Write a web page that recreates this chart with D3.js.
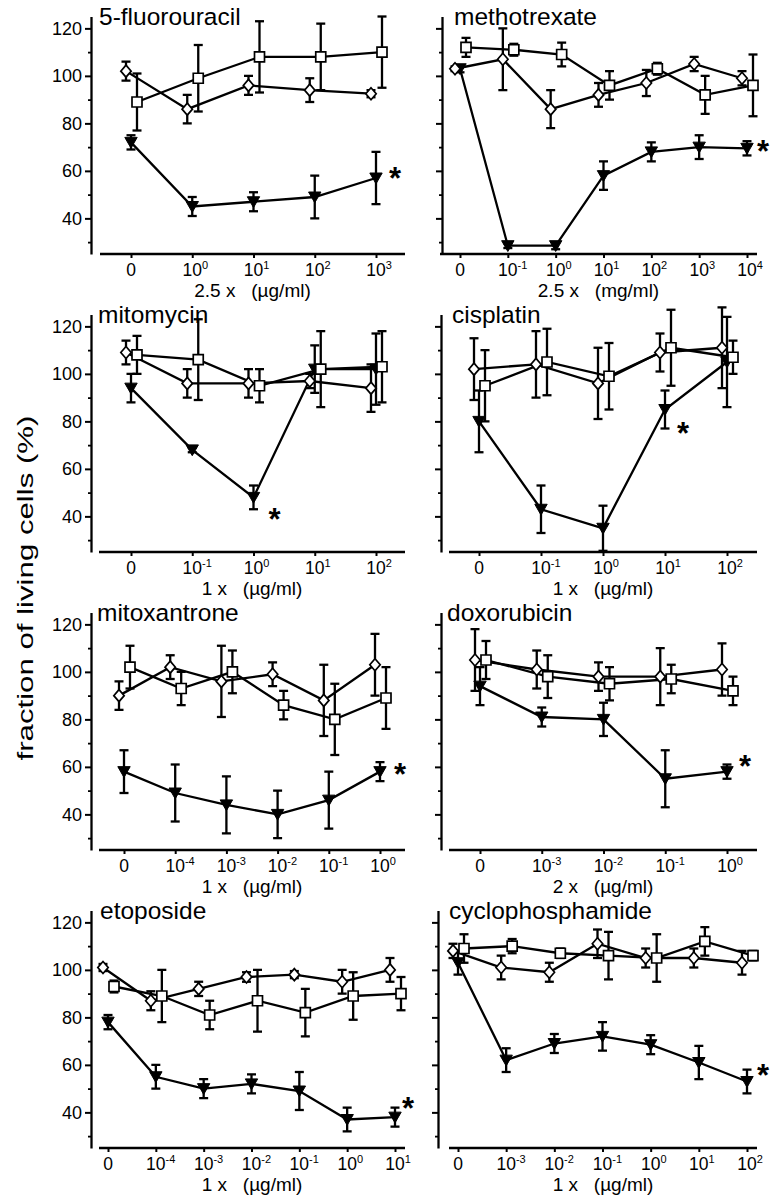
<!DOCTYPE html>
<html><head><meta charset="utf-8">
<script src="https://cdn.jsdelivr.net/npm/d3@7"></script>
<style>
body{margin:0;background:#fff}
svg{display:block}
text{font-family:"Liberation Sans",Arial,Helvetica,sans-serif;fill:#000}
</style>
</head><body>
<svg id="c" width="776" height="1200"></svg>
<script>
// ---------------- DATA ----------------
const yMajorTicks = [40, 60, 80, 100, 120];
const yMinorTicks = [30, 50, 70, 90, 110];
const yLabel = "fraction of living cells (%)";

// 5-fluorouracil
const fuCats = ["0","10^0","10^1","10^2","10^3"];
const fuDiamond = [102, 86, 96, 94, 92.5], fuDiamondErr = [4, 6, 4, 5, 1.5];
const fuSquare = [89, 99, 108, 108, 110], fuSquareErr = [12, 14, 15, 14, 15];
const fuTriangle = [72, 45, 47, 49, 57], fuTriangleErr = [3, 4, 4, 9, 11];

// methotrexate
const mtxCats = ["0","10^-1","10^0","10^1","10^2","10^3","10^4"];
const mtxDiamond = [103, 107, 86, 92, 97, 105, 99], mtxDiamondErr = [1, 13, 8, 5, 5.5, 3, 3];
const mtxSquare = [112, 111, 109, 96, 103, 92, 96], mtxSquareErr = [4, 2.5, 5, 6, 2.5, 8, 13];
const mtxTriangle = [103, 28.5, 28.5, 58, 68, 70, 69.5], mtxTriangleErr = [1.5, 1, 1.5, 6, 4, 5, 3];

// mitomycin
const mmcCats = ["0","10^-1","10^0","10^1","10^2"];
const mmcDiamond = [109, 96, 96, 97, 94], mmcDiamondErr = [5, 6, 6, 3, 10];
const mmcSquare = [108, 106, 95, 102, 103], mmcSquareErr = [8, 17, 7, 16, 15];
const mmcTriangle = [94, 68, 48, 102, 102], mmcTriangleErr = [6, 1, 5, 10, 15];

// cisplatin
const cisCats = ["0","10^-1","10^0","10^1","10^2"];
const cisDiamond = [102, 104, 96, 109, 111], cisDiamondErr = [13, 14, 15, 8, 17];
const cisSquare = [95, 105, 99, 111, 107], cisSquareErr = [15, 14, 14, 16, 7];
const cisTriangle = [80, 43, 35, 85, 105], cisTriangleErr = [13, 10, 9.5, 8, 19];

// mitoxantrone
const mxCats = ["0","10^-4","10^-3","10^-2","10^-1","10^0"];
const mxDiamond = [90, 102, 96, 99, 88, 103], mxDiamondErr = [6, 5, 15, 5, 15, 13];
const mxSquare = [102, 93, 100, 86, 80, 89], mxSquareErr = [9, 7, 9, 6, 15, 13];
const mxTriangle = [58, 49, 44, 40, 46, 58], mxTriangleErr = [9, 12, 12, 10, 12, 4];

// doxorubicin
const doxCats = ["0","10^-3","10^-2","10^-1","10^0"];
const doxDiamond = [105, 101, 98, 98, 101], doxDiamondErr = [13, 8, 6, 12, 11];
const doxSquare = [105, 98, 95, 97, 92], doxSquareErr = [8, 9, 7, 6, 6];
const doxTriangle = [94, 81, 80, 55, 58], doxTriangleErr = [8, 4, 7, 12, 3];

// etoposide
const etoCats = ["0","10^-4","10^-3","10^-2","10^-1","10^0","10^1"];
const etoDiamond = [101, 87, 92, 97, 98, 95, 100], etoDiamondErr = [1.5, 4, 3, 2, 1.5, 5, 5];
const etoSquare = [93, 89, 81, 87, 82, 89, 90], etoSquareErr = [2.5, 11, 6, 13, 10, 10, 7];
const etoTriangle = [78, 55, 50, 52, 49, 37, 38], etoTriangleErr = [3, 5, 4, 4, 8, 5, 4];

// cyclophosphamide
const cycCats = ["0","10^-3","10^-2","10^-1","10^0","10^1","10^2"];
const cycDiamond = [108, 101, 99, 111, 105, 105, 103], cycDiamondErr = [3, 5, 4, 6, 4, 4, 5];
const cycSquare = [109, 110, 107, 106, 105, 112, 106], cycSquareErr = [6, 3, 2, 10, 10, 6, 2];
const cycTriangle = [103, 62, 69, 72, 68.5, 61, 53], cycTriangleErr = [5, 5, 4, 6, 4, 7, 5];

const titles = ["5-fluorouracil","methotrexate","mitomycin","cisplatin","mitoxantrone","doxorubicin","etoposide","cyclophosphamide"];
const xTitles = ["2.5 x   (\u00b5g/ml)","2.5 x   (mg/ml)","1 x   (\u00b5g/ml)","1 x   (\u00b5g/ml)","1 x   (\u00b5g/ml)","2 x   (\u00b5g/ml)","1 x   (\u00b5g/ml)","1 x   (\u00b5g/ml)"];
// index of the category that carries the significance star (triangle series)
const starAt = [4, 6, 2, 3, 5, 4, 6, 6];

const panels = [
  {cats: fuCats, d: [fuDiamond, fuDiamondErr], s: [fuSquare, fuSquareErr], t: [fuTriangle, fuTriangleErr]},
  {cats: mtxCats, d: [mtxDiamond, mtxDiamondErr], s: [mtxSquare, mtxSquareErr], t: [mtxTriangle, mtxTriangleErr]},
  {cats: mmcCats, d: [mmcDiamond, mmcDiamondErr], s: [mmcSquare, mmcSquareErr], t: [mmcTriangle, mmcTriangleErr]},
  {cats: cisCats, d: [cisDiamond, cisDiamondErr], s: [cisSquare, cisSquareErr], t: [cisTriangle, cisTriangleErr]},
  {cats: mxCats, d: [mxDiamond, mxDiamondErr], s: [mxSquare, mxSquareErr], t: [mxTriangle, mxTriangleErr]},
  {cats: doxCats, d: [doxDiamond, doxDiamondErr], s: [doxSquare, doxSquareErr], t: [doxTriangle, doxTriangleErr]},
  {cats: etoCats, d: [etoDiamond, etoDiamondErr], s: [etoSquare, etoSquareErr], t: [etoTriangle, etoTriangleErr]},
  {cats: cycCats, d: [cycDiamond, cycDiamondErr], s: [cycSquare, cycSquareErr], t: [cycTriangle, cycTriangleErr]}
];

// ---------------- LAYOUT ----------------
const layout = [
  {ay: 254, yx: 91,  x0: 100, x1: 405, t0: 131, t1: 376, tx: 99,  lab: true,  sdx: 19, sdy: -6},
  {ay: 254, yx: 442, x0: 440, x1: 757, t0: 460, t1: 747, tx: 454, lab: false, sdx: 16, sdy: -3},
  {ay: 552, yx: 91,  x0: 99,  x1: 405, t0: 131, t1: 376, tx: 98,  lab: true,  sdx: 21, sdy: 16},
  {ay: 552, yx: 441, x0: 449, x1: 757, t0: 479, t1: 727, tx: 452, lab: false, sdx: 18, sdy: 17},
  {ay: 850, yx: 91,  x0: 99,  x1: 405, t0: 124, t1: 380, tx: 97,  lab: true,  sdx: 20, sdy: -4},
  {ay: 850, yx: 441, x0: 449, x1: 757, t0: 480, t1: 727, tx: 447, lab: false, sdx: 18, sdy: -12},
  {ay: 1148, yx: 91, x0: 99,  x1: 405, t0: 108, t1: 395, tx: 100, lab: true,  sdx: 13, sdy: -15},
  {ay: 1148, yx: 438, x0: 449, x1: 757, t0: 458, t1: 747, tx: 449, lab: false, sdx: 16, sdy: -13}
];

const FONT = '"Liberation Sans",Arial,Helvetica,sans-serif';
const svg = d3.select("#c");

const shapes = {
  d: "M0,-6L5.2,0L0,6L-5.2,0Z",
  s: "M-5,-5H5V5H-5Z",
  t: "M-6.2,-5L6.2,-5L0,5.8Z"
};
const offsets = {d: -5, s: 6, t: 0};
const LW = 2.3;

panels.forEach((p, i) => {
  const L = layout[i];
  const y = d3.scaleLinear().domain([25, 125]).range([L.ay, L.ay - 237.5]);
  const x = d3.scalePoint().domain(p.cats).range([L.t0, L.t1]);
  const g = svg.append("g");

  // y axis (major)
  const ya = g.append("g").attr("transform", `translate(${L.yx},0)`)
    .call(d3.axisLeft(y).tickValues(yMajorTicks).tickSize(6).tickSizeOuter(0).tickPadding(3)
      .tickFormat(L.lab ? d3.format("d") : () => ""));
  ya.attr("font-family", FONT).attr("font-size", 18);
  ya.selectAll("path.domain").attr("stroke", "#000").attr("stroke-width", LW);
  ya.selectAll(".tick line").attr("stroke", "#000").attr("stroke-width", 2);
  ya.selectAll(".tick text").attr("fill", "#000");
  // y axis (minor)
  const ym = g.append("g").attr("transform", `translate(${L.yx},0)`)
    .call(d3.axisLeft(y).tickValues(yMinorTicks).tickSize(3).tickFormat(() => ""));
  ym.select("path.domain").remove();
  ym.selectAll(".tick line").attr("stroke", "#000").attr("stroke-width", 1.8);

  // x axis
  g.append("line").attr("x1", L.x0).attr("x2", L.x1).attr("y1", L.ay).attr("y2", L.ay)
    .attr("stroke", "#000").attr("stroke-width", LW);
  const xa = g.append("g").attr("transform", `translate(0,${L.ay})`)
    .call(d3.axisBottom(x).tickSize(4).tickFormat(() => ""));
  xa.select("path.domain").remove();
  xa.selectAll(".tick line").attr("stroke", "#000").attr("stroke-width", 2);

  // x tick labels
  p.cats.forEach(c => {
    const cx = x(c);
    const t = g.append("text").attr("y", L.ay + 22).attr("font-size", 17.5);
    if (c === "0") {
      t.attr("x", cx).attr("text-anchor", "middle").text("0");
    } else {
      const exp = c.split("^")[1];
      t.append("tspan").text("10");
      t.append("tspan").attr("font-size", 11).attr("dy", -7).text(exp);
      const w = t.node().getSubStringLength(0, 2);
      t.attr("x", cx - w / 2);
    }
  });

  // x title
  g.append("text").attr("x", (L.x0 + L.x1) / 2).attr("y", L.ay + 43)
    .attr("text-anchor", "middle").attr("font-size", 19)
    .style("white-space", "pre").text(xTitles[i]);

  // panel title
  g.append("text").attr("x", L.tx).attr("y", L.ay - 229).attr("font-size", 24.5).text(titles[i]);

  // series
  const series = ["t", "s", "d"].map(k => ({
    k, pts: p.cats.map((c, j) => ({c, v: p[k][0][j], e: p[k][1][j]}))
  }));
  const line = (k) => d3.line().x(d => x(d.c) + offsets[k]).y(d => y(d.v));

  series.forEach(s => {
    g.append("path").datum(s.pts).attr("d", line(s.k))
      .attr("fill", "none").attr("stroke", "#000").attr("stroke-width", LW);
  });
  series.forEach(s => {
    const eg = g.append("g").attr("stroke", "#000").attr("stroke-width", LW);
    s.pts.forEach(d => {
      const cx = x(d.c) + offsets[s.k];
      const yt = y(d.v + d.e), yb = y(d.v - d.e);
      eg.append("line").attr("x1", cx).attr("x2", cx).attr("y1", yt).attr("y2", yb);
      eg.append("line").attr("x1", cx - 4.5).attr("x2", cx + 4.5).attr("y1", yt).attr("y2", yt);
      eg.append("line").attr("x1", cx - 4.5).attr("x2", cx + 4.5).attr("y1", yb).attr("y2", yb);
    });
  });
  series.forEach(s => {
    g.selectAll(null).data(s.pts).enter().append("path")
      .attr("d", shapes[s.k])
      .attr("transform", d => `translate(${x(d.c) + offsets[s.k]},${y(d.v)})`)
      .attr("fill", s.k === "t" ? "#000" : "#fff")
      .attr("stroke", "#000").attr("stroke-width", s.k === "t" ? 1 : 1.7);
  });

  // significance star
  const sc = p.cats[starAt[i]];
  g.append("text").attr("x", x(sc) + L.sdx).attr("y", y(p.t[0][starAt[i]]) + L.sdy + 17)
    .attr("text-anchor", "middle").attr("font-size", 31).attr("font-weight", "bold").text("*");
});

// shared y label
svg.append("text").attr("transform", "translate(33,588) rotate(-90)")
  .attr("text-anchor", "middle").attr("font-size", 22)
  .attr("textLength", 345).attr("lengthAdjust", "spacingAndGlyphs")
  .text(yLabel);
</script>
</body></html>
